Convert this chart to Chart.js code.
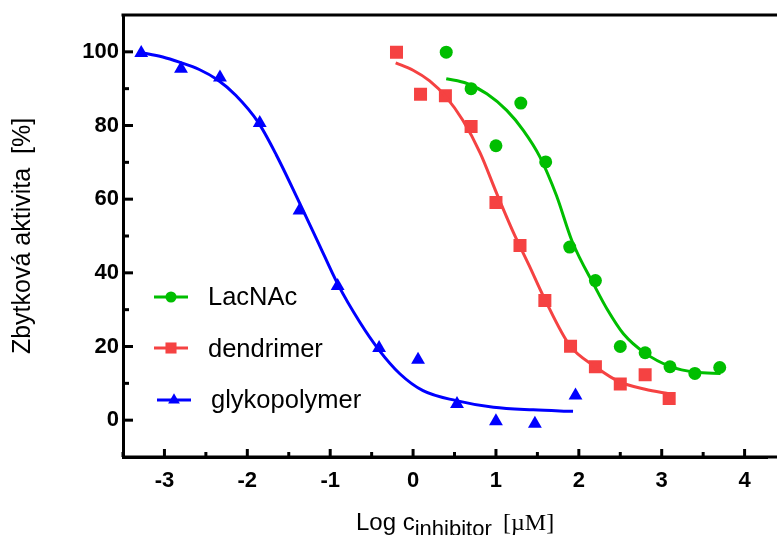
<!DOCTYPE html>
<html>
<head>
<meta charset="utf-8">
<script src="https://cdn.jsdelivr.net/npm/chart.js@4.4.1/dist/chart.umd.min.js"></script>
<style>
  html, body { margin: 0; padding: 0; background: #fff; }
</style>
</head>
<body>
<canvas id="inhibChart" width="777" height="535"></canvas>
<script>
// measured points
const lacX = [0.40, 0.70, 1.00, 1.30, 1.60, 1.89, 2.20, 2.50, 2.80, 3.10, 3.40, 3.70];
const lacY = [99.9, 90.0, 74.5, 86.1, 70.1, 47.0, 37.9, 20.0, 18.3, 14.5, 12.7, 14.3];
const dendX = [-0.20, 0.09, 0.39, 0.70, 1.00, 1.29, 1.59, 1.90, 2.20, 2.50, 2.80, 3.09];
const dendY = [99.9, 88.5, 88.1, 79.7, 59.1, 47.4, 32.5, 20.1, 14.5, 9.8, 12.3, 5.9];
const glykoX = [-3.28, -2.80, -2.33, -1.85, -1.37, -0.91, -0.41, 0.06, 0.53, 1.00, 1.47, 1.96];
const glykoY = [99.7, 95.4, 93.0, 80.7, 56.9, 36.4, 19.6, 16.4, 4.4, -0.3, -1.0, 6.7];

// fitted curves
const lacFitX = [0.40, 0.65, 0.89, 1.13, 1.33, 1.53, 1.73, 1.92, 2.20, 2.34, 2.54, 2.80, 3.10, 3.41, 3.71];
const lacFitY = [92.7, 91.4, 88.6, 84.1, 78.7, 71.5, 61.0, 48.5, 36.0, 30.2, 23.4, 18.2, 14.6, 13.0, 12.7];
const dendFitX = [-0.21, 0.00, 0.20, 0.40, 0.60, 0.81, 1.01, 1.21, 1.40, 1.59, 1.89, 2.20, 2.50, 2.80, 3.10];
const dendFitY = [97.0, 95.0, 92.1, 87.7, 81.4, 72.5, 61.5, 51.0, 42.0, 32.8, 20.3, 14.5, 10.3, 8.4, 7.1];
const glykoFitX = [-3.30, -3.02, -2.82, -2.58, -2.36, -2.14, -1.87, -1.65, -1.37, -1.15, -0.91, -0.64, -0.42, -0.16, 0.12, 0.52, 0.97, 1.45, 1.93];
const glykoFitY = [99.9, 98.6, 97.2, 95.2, 92.4, 88.2, 80.9, 72.0, 59.0, 48.5, 37.0, 26.5, 19.3, 12.6, 8.0, 5.3, 3.5, 2.8, 2.4];

const xTicks = [-3, -2, -1, 0, 1, 2, 3, 4];
const yTicks = [0, 20, 40, 60, 80, 100];

const green = "rgb(0,190,0)";
const red = "rgb(245,66,66)";
const blue = "rgb(0,0,255)";

const pts = (xs, ys) => xs.map((x, i) => ({ x, y: ys[i] }));

const series = [
  { label: "LacNAc", color: green, style: "circle", r: 6.5 },
  { label: "dendrimer", color: red, style: "rect", r: 9.2 },
  { label: "glykopolymer", color: blue, style: "triangle", r: 8 }
];

function fitSet(data, color) {
  return {
    data, showLine: true, borderColor: color, borderWidth: 3,
    pointRadius: 0, cubicInterpolationMode: "monotone", fill: false
  };
}

function markSet(data, s) {
  return {
    data, showLine: false, pointStyle: s.style, pointRadius: s.r,
    pointHoverRadius: s.r, backgroundColor: s.color, borderColor: s.color, borderWidth: 0
  };
}

const frame = {
  id: "frame",
  afterDraw(chart) {
    const { ctx, chartArea: a } = chart;
    const x = chart.scales.x, y = chart.scales.y;
    const w = chart.width;
    ctx.save();
    ctx.strokeStyle = "#000";
    ctx.lineWidth = 3;
    ctx.beginPath();
    ctx.moveTo(a.left - 1.5, a.top);
    ctx.lineTo(w, a.top);
    ctx.moveTo(a.left, a.bottom);
    ctx.lineTo(w, a.bottom);
    ctx.stroke();

    // inward ticks
    for (let v = -3.5; v <= 4.01; v += 0.5) {
      const px = x.getPixelForValue(v);
      const len = Number.isInteger(v) ? 8 : 5;
      ctx.beginPath();
      ctx.moveTo(px, a.bottom);
      ctx.lineTo(px, a.bottom - len);
      ctx.stroke();
    }
    for (let v = 0; v <= 100; v += 10) {
      const py = y.getPixelForValue(v);
      const len = v % 20 === 0 ? 10 : 6;
      ctx.beginPath();
      ctx.moveTo(a.left, py);
      ctx.lineTo(a.left + len, py);
      ctx.stroke();
    }

    // axis titles
    ctx.fillStyle = "#000";
    ctx.textBaseline = "alphabetic";
    ctx.textAlign = "left";
    ctx.font = "24px 'Liberation Sans', Arial, sans-serif";
    let tx = 356;
    ctx.fillText("Log c", tx, 530);
    tx += ctx.measureText("Log c").width;
    ctx.font = "22px 'Liberation Sans', Arial, sans-serif";
    ctx.fillText("inhibitor", tx, 536);
    ctx.font = "24px 'Liberation Serif', 'Times New Roman', serif";
    ctx.fillText("[\u00b5M]", 503, 530);

    ctx.save();
    ctx.translate(23, 236);
    ctx.rotate(-Math.PI / 2);
    ctx.textAlign = "center";
    ctx.textBaseline = "middle";
    ctx.font = "25px 'Liberation Sans', Arial, sans-serif";
    ctx.fillText("Zbytková aktivita  [%]", 0, 0);
    ctx.restore();

    // legend
    const rows = [
      { x0: 154, y0: 297, tx: 208, ty: 305 },
      { x0: 154, y0: 348, tx: 208, ty: 357 },
      { x0: 157, y0: 400, tx: 211, ty: 408 }
    ];
    ctx.font = "25.5px 'Liberation Sans', Arial, sans-serif";
    series.forEach((s, i) => {
      const r = rows[i];
      ctx.strokeStyle = s.color;
      ctx.fillStyle = s.color;
      ctx.lineWidth = 3;
      ctx.beginPath();
      ctx.moveTo(r.x0, r.y0);
      ctx.lineTo(r.x0 + 34, r.y0);
      ctx.stroke();
      Chart.helpers.drawPoint(ctx, { pointStyle: s.style, radius: s.r * 0.85, rotation: 0, borderWidth: 0 }, r.x0 + 17, r.y0);
      ctx.fillStyle = "#000";
      ctx.fillText(s.label, r.tx, r.ty);
    });
    ctx.restore();
  }
};

const ctx = document.getElementById("inhibChart").getContext("2d");

new Chart(ctx, {
  type: "scatter",
  data: {
    datasets: [
      fitSet(pts(lacFitX, lacFitY), green),
      fitSet(pts(dendFitX, dendFitY), red),
      fitSet(pts(glykoFitX, glykoFitY), blue),
      markSet(pts(lacX, lacY), series[0]),
      markSet(pts(dendX, dendY), series[1]),
      markSet(pts(glykoX, glykoY), series[2])
    ]
  },
  options: {
    responsive: false,
    animation: false,
    events: [],
    layout: { padding: { top: 15, right: 0, left: 0, bottom: 0 } },
    plugins: { legend: { display: false }, tooltip: { enabled: false } },
    scales: {
      x: {
        type: "linear", min: -3.5, max: 4.28,
        afterBuildTicks: s => { s.ticks = xTicks.map(v => ({ value: v })); },
        afterFit: s => { s.height = 78; s.paddingLeft = 0; s.paddingRight = 0; },
        grid: { display: false, drawTicks: false },
        border: { display: true, color: "#000", width: 3 },
        ticks: { padding: 11, color: "#000", font: { family: "'Liberation Sans', Arial", size: 22, weight: "bold" } }
      },
      y: {
        type: "linear", min: -10, max: 110,
        afterBuildTicks: s => { s.ticks = yTicks.map(v => ({ value: v })); },
        afterFit: s => { s.width = 123; s.paddingTop = 0; s.paddingBottom = 0; },
        grid: { display: false, drawTicks: false },
        border: { display: true, color: "#000", width: 3 },
        ticks: { padding: 4, color: "#000", font: { family: "'Liberation Sans', Arial", size: 22, weight: "bold" } }
      }
    }
  },
  plugins: [frame]
});
</script>
</body>
</html>
